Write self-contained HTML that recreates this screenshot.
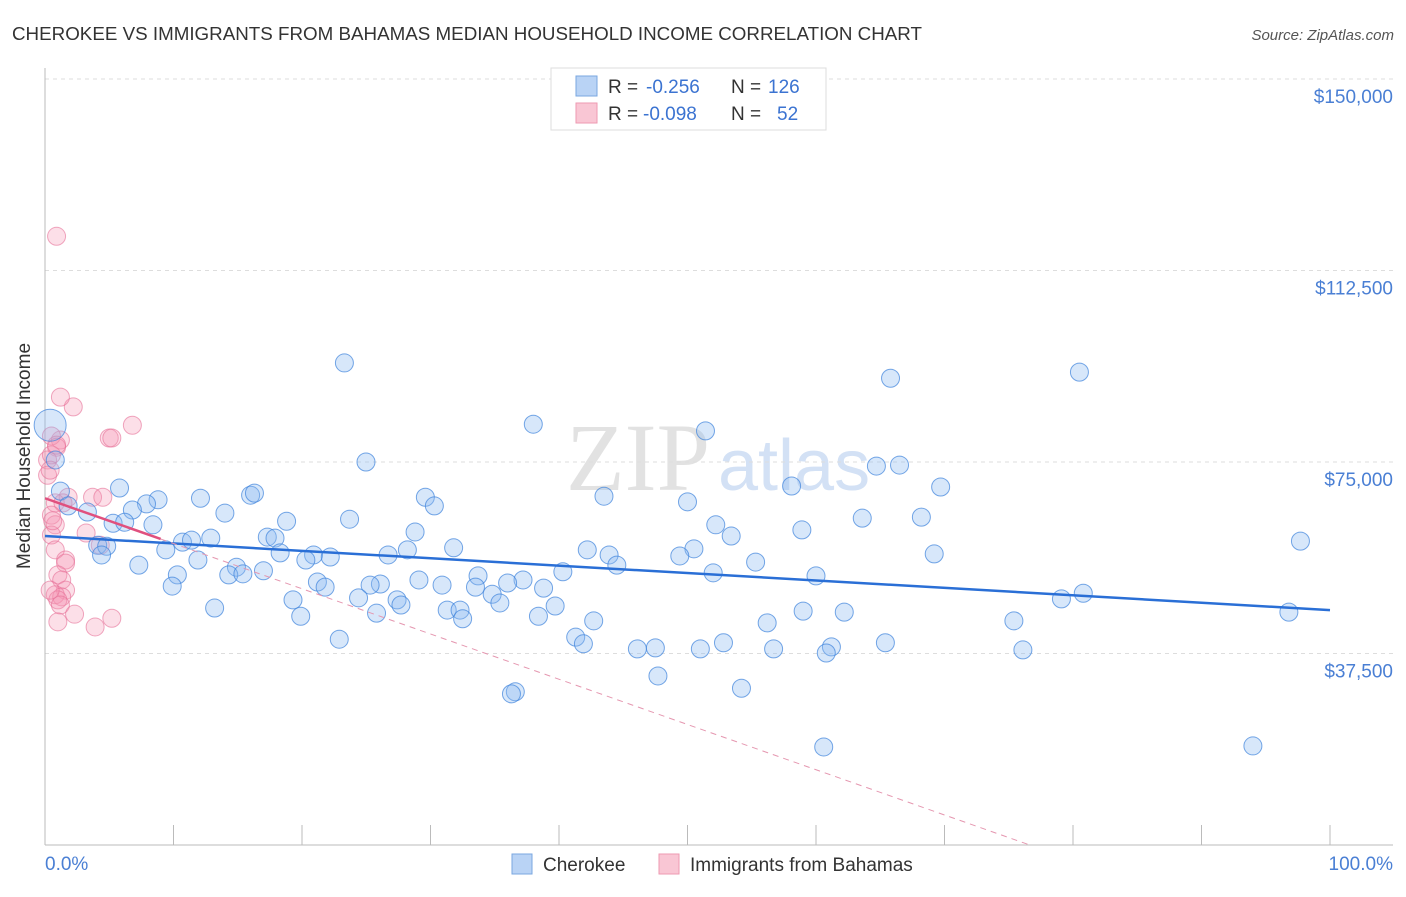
<!DOCTYPE html>
<html><head><meta charset="utf-8"><style>
body{margin:0;background:#fff;font-family:"Liberation Sans",sans-serif}
</style></head><body>
<svg width="1406" height="892" xmlns="http://www.w3.org/2000/svg" font-family="Liberation Sans, sans-serif">
<text x="12" y="40" font-size="18" fill="#333" textLength="910" lengthAdjust="spacingAndGlyphs">CHEROKEE VS IMMIGRANTS FROM BAHAMAS MEDIAN HOUSEHOLD INCOME CORRELATION CHART</text>
<text x="1394" y="40" font-size="15" fill="#555" font-style="italic" text-anchor="end">Source: ZipAtlas.com</text>
<text x="710" y="490" font-size="96" fill="#e2e2e2" text-anchor="end" font-family="Liberation Serif, serif">ZIP</text>
<text x="718" y="490" font-size="72" fill="#d3e1f5">atlas</text>
<g id="grid"></g><g id="axes"></g><g id="pink"></g><g id="blue"></g><g id="lines"></g>
<text x="30" y="456" font-size="19" fill="#333" text-anchor="middle" transform="rotate(-90 30 456)">Median Household Income</text>
<text x="45" y="870" font-size="19" fill="#4a7fd4">0.0%</text>
<text x="1393" y="870" font-size="19" fill="#4a7fd4" text-anchor="end">100.0%</text>
<g>
<rect x="551" y="68" width="275" height="62" fill="#fff" stroke="#ddd"/>
<rect x="576" y="76" width="21" height="20" fill="#b9d3f5" stroke="#7aa7e0"/>
<rect x="576" y="103" width="21" height="20" fill="#f9c6d4" stroke="#ee9ab2"/>
<text x="608" y="93" font-size="19" fill="#333">R =</text>
<text x="646" y="93" font-size="19" fill="#3b73d1">-0.256</text>
<text x="731" y="93" font-size="19" fill="#333">N =</text>
<text x="768" y="93" font-size="19" fill="#3b73d1">126</text>
<text x="608" y="120" font-size="19" fill="#333">R =</text>
<text x="643" y="120" font-size="19" fill="#3b73d1">-0.098</text>
<text x="731" y="120" font-size="19" fill="#333">N =</text>
<text x="777" y="120" font-size="19" fill="#3b73d1">52</text>
</g>
<g>
<rect x="512" y="854" width="20" height="20" fill="#b9d3f5" stroke="#7aa7e0"/>
<text x="543" y="871" font-size="19" fill="#333">Cherokee</text>
<rect x="659" y="854" width="20" height="20" fill="#f9c6d4" stroke="#ee9ab2"/>
<text x="690" y="871" font-size="19" fill="#333">Immigrants from Bahamas</text>
</g>
</svg>
<script>
const yTicks=[37500,75000,112500,150000];
const yTickLabels=["$37,500","$75,000","$112,500","$150,000"];
const xTicks=[0,10,20,30,40,50,60,70,80,90,100];
const blueX=[23.3,38.0,51.4,65.8,80.5,24.98,64.7,66.5,58.1,69.7,5.8,1.2,16.0,16.3,8.8,7.9,12.1,29.6,30.3,43.5,50.0,1.8,6.8,14.0,3.3,23.7,18.8,63.6,68.2,5.3,6.2,8.4,52.2,28.8,58.9,53.4,17.3,17.9,12.9,10.7,11.4,4.1,4.8,9.4,31.8,28.2,42.2,50.5,97.7,4.4,18.3,20.9,22.2,26.7,43.9,49.4,69.2,20.3,11.9,44.5,55.3,7.3,14.9,17.0,40.3,52.0,10.3,14.3,15.4,33.7,37.2,60.0,29.1,21.2,26.1,25.3,30.9,36.0,9.9,21.8,33.5,38.8,34.8,80.8,79.1,24.4,19.3,27.4,27.7,35.4,39.7,13.2,31.3,32.3,25.8,59.0,62.2,96.8,19.9,32.5,38.4,42.7,75.4,56.2,22.9,41.3,41.9,65.4,52.8,46.1,47.5,51.0,56.7,61.2,60.8,76.1,47.7,54.2,36.6,36.3,60.6,94.0,0.8];
const blueY=[94.4,82.4,81.1,91.4,92.6,75.0,74.2,74.4,70.3,70.1,69.9,69.3,68.5,68.9,67.6,66.8,67.9,68.1,66.4,68.3,67.2,66.4,65.6,65.0,65.2,63.8,63.4,64.0,64.2,63.0,63.2,62.7,62.7,61.3,61.7,60.5,60.3,60.1,60.1,59.3,59.7,58.7,58.5,57.8,58.2,57.8,57.8,58.0,59.5,56.8,57.2,56.8,56.4,56.8,56.8,56.6,57.0,55.8,55.8,54.8,55.4,54.8,54.4,53.7,53.5,53.3,52.9,52.9,53.1,52.7,51.9,52.7,51.9,51.5,51.1,50.9,50.9,51.3,50.7,50.5,50.5,50.3,49.1,49.3,48.2,48.4,48.0,48.0,47.0,47.4,46.8,46.4,46.0,46.0,45.4,45.8,45.6,45.6,44.8,44.3,44.8,43.9,43.9,43.5,40.3,40.7,39.4,39.6,39.6,38.4,38.6,38.4,38.4,38.8,37.6,38.2,33.1,30.7,30.0,29.6,19.2,19.4,75.4];
const bigX=[0.4], bigY=[82.2];
const pinkX=[0.9,1.2,2.2,1.2,6.8,5.0,0.5,0.9,0.2,0.5,0.2,1.8,3.7,4.5,0.8,1.4,0.5,0.8,0.5,3.2,4.3,0.8,1.6,1.6,1.0,1.3,1.6,0.8,1.3,1.0,1.2,1.0,2.3,3.9,5.2,0.4,0.9,0.4,5.2,0.6];
const pinkY=[119.2,79.3,85.8,87.7,82.2,79.7,80.1,77.9,75.4,76.4,72.4,68.1,68.1,68.1,67.0,67.0,64.6,62.7,60.7,61.1,58.7,57.8,55.8,55.2,52.9,51.9,49.9,49.0,48.6,48.0,47.0,43.7,45.2,42.7,44.4,49.9,78.3,73.4,79.7,63.5];
const blueTrend=[60.5,46.0];
const pinkTrend=[67.9,-0.886];
const sx=p=>45+p*12.85, sy=v=>845-v*1000*191.5/37500;
const NS="http://www.w3.org/2000/svg";
function mk(tag,attrs,parent){const e=document.createElementNS(NS,tag);for(const k in attrs)e.setAttribute(k,attrs[k]);document.getElementById(parent).appendChild(e);return e;}
yTicks.forEach((t,i)=>{
 const g=mk('line',{x1:45,x2:1393,y1:sy(t/1000),y2:sy(t/1000),stroke:'#ddd','stroke-dasharray':'4,4'},'grid');
 
 
 const l=mk('text',{x:1393,y:sy(t/1000)+24,'font-size':19,fill:'#4a7fd4','text-anchor':'end'},'grid');
 l.textContent=yTickLabels[i];
 
 
});
const ax=mk('line',{x1:45,x2:1393,y1:845,y2:845,stroke:'#bbb'},'axes');


const ay=mk('line',{x1:45,x2:45,y1:68,y2:845,stroke:'#bbb'},'axes');


xTicks.forEach(t=>{const e=mk('line',{x1:sx(t),x2:sx(t),y1:825,y2:845,stroke:'#bbb'},'axes');
 
 });
pinkX.forEach((x,i)=>{const c=mk('circle',{cx:sx(x),cy:sy(pinkY[i]),r:9,fill:'rgba(244,150,180,0.3)',stroke:'rgba(230,110,150,0.6)'},'pink');
 
 });
blueX.forEach((x,i)=>{const c=mk('circle',{cx:sx(x),cy:sy(blueY[i]),r:9,fill:'rgba(140,185,240,0.35)',stroke:'rgba(60,130,220,0.7)'},'blue');
 
 });
bigX.forEach((x,i)=>{const c=mk('circle',{cx:sx(x),cy:sy(bigY[i]),r:16,fill:'rgba(140,185,240,0.35)',stroke:'rgba(60,130,220,0.7)'},'blue');
 
 });
const bl=mk('line',{x1:sx(0),y1:sy(blueTrend[0]),x2:sx(100),y2:sy(blueTrend[1]),stroke:'#2a6fd6','stroke-width':2.5},'lines');


const px2=-pinkTrend[0]/pinkTrend[1];
const pd=mk('line',{x1:sx(9),y1:sy(pinkTrend[0]+pinkTrend[1]*9),x2:sx(px2),y2:sy(0),stroke:'#e597b0','stroke-width':1,'stroke-dasharray':'6,5'},'lines');


const ps=mk('line',{x1:sx(0),y1:sy(pinkTrend[0]),x2:sx(9),y2:sy(pinkTrend[0]+pinkTrend[1]*9),stroke:'#e0507e','stroke-width':2.5},'lines');


</script>
</body></html>
